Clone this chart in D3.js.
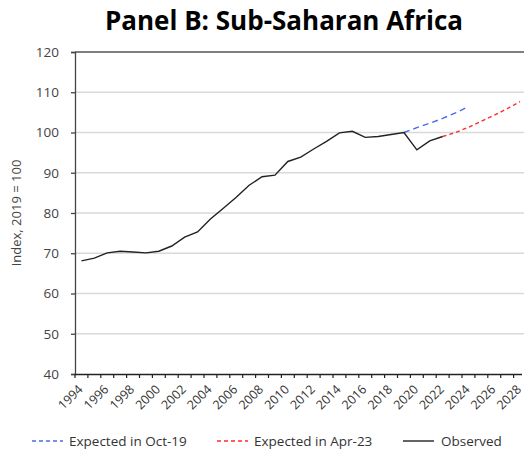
<!DOCTYPE html>
<html>
<head>
<meta charset="utf-8">
<script src="https://cdn.jsdelivr.net/npm/d3@7"></script>
<style>
  body { margin: 0; background: #fff; }
  text { font-family: "Open Sans", "Noto Sans", sans-serif; }
</style>
</head>
<body>
<div id="chart"></div>
<script>
'use strict';

const years = d3.range(1994, 2029);
const tickYears = years.filter(y => y % 2 === 0);
const yTicks = [40, 50, 60, 70, 80, 90, 100, 110, 120];

const observedYears = d3.range(1994, 2023);
const observed = [68.1, 68.8, 70.1, 70.5, 70.3, 70.1, 70.5, 71.8, 74.0, 75.3,
    78.5, 81.2, 83.9, 86.9, 89.0, 89.4, 92.8, 93.9, 95.9, 97.8,
    99.9, 100.3, 98.8, 99.0, 99.5, 100.0, 95.7, 97.9, 99.0];

const oct19Years = d3.range(2019, 2025);
const oct19 = [100.0, 101.2, 102.3, 103.5, 104.9, 106.4];

const apr23Years = d3.range(2022, 2029);
const apr23 = [99.0, 100.0, 101.3, 102.8, 104.3, 105.9, 107.7];

const width = 524, height = 454;
const margin = {top: 52, left: 75, bottom: 80};

const svg = d3.select("#chart").append("svg")
    .attr("width", width)
    .attr("height", height);

const x = d3.scaleBand()
    .domain(years)
    .range([margin.left, margin.left + 35 * 12.9]);

const y = d3.scaleLinear()
    .domain([40, 120])
    .range([374, margin.top]);

const cx = d => x(d) + x.bandwidth() / 2;

// title
svg.append("text")
    .attr("x", 284)
    .attr("y", 30)
    .attr("text-anchor", "middle")
    .style("font-size", "26px")
    .style("font-weight", "bold")
    .style("fill", "#000")
    .text("Panel B: Sub-Saharan Africa");

// gridlines
svg.append("g")
    .selectAll("line")
    .data(yTicks.filter(t => t > 40))
    .join("line")
    .attr("x1", margin.left)
    .attr("x2", width)
    .attr("y1", d => y(d))
    .attr("y2", d => y(d))
    .style("stroke", d => d === 120 ? "#555" : "#d9d9d9")
    .style("stroke-width", 1.3);

// y axis
const yAxis = svg.append("g")
    .attr("transform", `translate(${margin.left},0)`)
    .call(d3.axisLeft(y).tickValues(yTicks).tickSize(4).tickPadding(12));
yAxis.select(".domain").style("stroke", "#444").style("stroke-width", 1.3);
yAxis.selectAll(".tick line").style("stroke", "#444").style("stroke-width", 1.3);
yAxis.selectAll(".tick text")
    .style("font-size", "13.5px")
    .style("fill", "#444")
    .style("font-family", "'Open Sans', 'Noto Sans', sans-serif");

// x axis
const xAxis = svg.append("g")
    .attr("transform", `translate(0,374)`)
    .call(d3.axisBottom(x).tickSize(0).tickFormat(""));
xAxis.select(".domain").attr("d", `M${margin.left},0.5H${width - 2}`)
    .style("stroke", "#222").style("stroke-width", 1.3);

svg.append("g")
    .selectAll("line")
    .data(years)
    .join("line")
    .attr("x1", d => x(d))
    .attr("x2", d => x(d))
    .attr("y1", 374)
    .attr("y2", 378)
    .style("stroke", "#222")
    .style("stroke-width", 1.2);

svg.append("g")
    .selectAll("text")
    .data(tickYears)
    .join("text")
    .attr("transform", d => `translate(${cx(d) - 1},${387}) rotate(-45)`)
    .attr("text-anchor", "end")
    .attr("dy", "0.35em")
    .style("font-size", "12.5px")
    .style("fill", "#333")
    .text(d => d);

// y label
svg.append("text")
    .attr("transform", "translate(21,213) rotate(-90)")
    .attr("text-anchor", "middle")
    .style("font-size", "13px")
    .style("fill", "#444")
    .text("Index, 2019 = 100");

// lines
const line = d3.line()
    .x(d => cx(d[0]))
    .y(d => y(d[1]));

svg.append("path")
    .datum(d3.zip(oct19Years, oct19))
    .attr("d", line)
    .style("fill", "none")
    .style("stroke", "#4a6ae8")
    .style("stroke-width", 1.4)
    .style("stroke-dasharray", "6,4");

svg.append("path")
    .datum(d3.zip(apr23Years, apr23))
    .attr("d", line)
    .style("fill", "none")
    .style("stroke", "#ff2b2b")
    .style("stroke-width", 1.4)
    .style("stroke-dasharray", "4,3");

svg.append("path")
    .datum(d3.zip(observedYears, observed))
    .attr("d", line)
    .style("fill", "none")
    .style("stroke", "#222")
    .style("stroke-width", 1.4);

// legend
const legend = [
    {label: "Expected in Oct-19", color: "#4a6ae8", dash: "4,3", x0: 32},
    {label: "Expected in Apr-23", color: "#ff2b2b", dash: "4,3", x0: 217},
    {label: "Observed", color: "#222", dash: null, x0: 403}
];
const lg = svg.append("g").selectAll("g")
    .data(legend)
    .join("g")
    .attr("transform", d => `translate(${d.x0},441)`);
lg.append("line")
    .attr("x1", 0).attr("x2", 31)
    .style("stroke", d => d.color)
    .style("stroke-width", 1.4)
    .style("stroke-dasharray", d => d.dash);
lg.append("text")
    .attr("x", d => d.dash ? 37 : 38)
    .attr("dy", "0.35em")
    .style("font-size", "13.5px")
    .style("fill", "#333")
    .text(d => d.label);
</script>
</body>
</html>
